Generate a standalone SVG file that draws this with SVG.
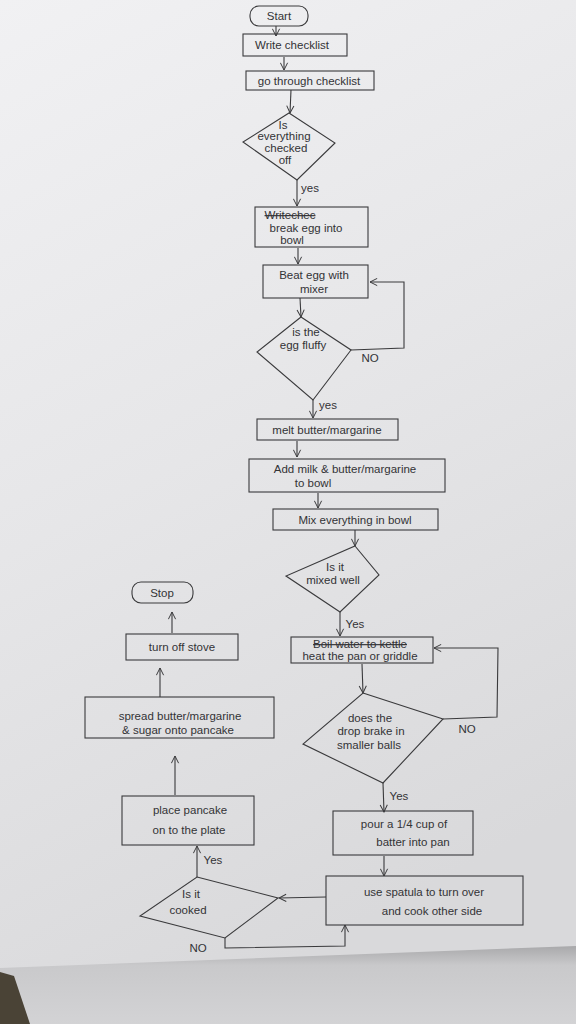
<svg xmlns="http://www.w3.org/2000/svg" width="576" height="1024" viewBox="0 0 576 1024">
<defs>
<linearGradient id="paper" x1="0" y1="0" x2="0.3" y2="1">
<stop offset="0" stop-color="#f1f1f3"/>
<stop offset="0.5" stop-color="#e6e6e8"/>
<stop offset="1" stop-color="#d9d9db"/>
</linearGradient>
<linearGradient id="under" x1="0" y1="0" x2="0" y2="1">
<stop offset="0" stop-color="#a9a9ab"/>
<stop offset="0.25" stop-color="#c9c9cb"/>
<stop offset="1" stop-color="#d3d3d5"/>
</linearGradient>
<marker id="ah" viewBox="0 0 10 10" refX="9" refY="5" markerWidth="9" markerHeight="9" orient="auto-start-reverse" markerUnits="userSpaceOnUse">
<path d="M1,1 L9,5 L1,9" fill="none" stroke="#3a3a3c" stroke-width="1.1"/>
</marker>
<style>
.sh{fill:none;stroke:#3a3a3c;stroke-width:1.1}
.ar{fill:none;stroke:#3a3a3c;stroke-width:1.1;marker-end:url(#ah)}
text{font-family:"Liberation Sans","DejaVu Sans",sans-serif;font-size:11.5px;fill:#333336;text-anchor:middle}
.lab{font-size:11.5px}
.st{text-decoration:line-through}
</style>
</defs>
<rect width="576" height="1024" fill="url(#paper)"/>
<polygon points="0,968 576,946 576,1024 0,1024" fill="url(#under)"/>
<polygon points="0,972 14,976 30,1024 0,1024" fill="#4a4336"/>

<g id="connectors">
<line class="ar" x1="276" y1="26" x2="276" y2="36"/>
<line class="ar" x1="284" y1="57" x2="284" y2="70"/>
<line class="ar" x1="291" y1="90" x2="290" y2="113"/>
<line class="ar" x1="297" y1="180" x2="297" y2="206"/>
<text class="lab" x="310" y="192">yes</text>
<line class="ar" x1="298" y1="248" x2="298" y2="264"/>
<line class="ar" x1="300" y1="298" x2="301" y2="317"/>
<polyline class="ar" points="351,350 404,348 404,282 370,282"/>
<text class="lab" x="370" y="362">NO</text>
<line class="ar" x1="313" y1="400" x2="313" y2="418"/>
<text class="lab" x="328" y="409">yes</text>
<line class="ar" x1="297" y1="441" x2="297" y2="457"/>
<line class="ar" x1="318" y1="493" x2="318" y2="508"/>
<line class="ar" x1="355" y1="530" x2="355" y2="546"/>
<line class="ar" x1="340" y1="612" x2="340" y2="636"/>
<text class="lab" x="355" y="628">Yes</text>
<polyline class="ar" points="443,719 497,717 498,648 434,648"/>
<text class="lab" x="467" y="733">NO</text>
<line class="ar" x1="362" y1="664" x2="363" y2="693"/>
<line class="ar" x1="383" y1="783" x2="384" y2="812"/>
<text class="lab" x="399" y="800">Yes</text>
<line class="ar" x1="384" y1="856" x2="384" y2="876"/>
<line class="ar" x1="326" y1="897" x2="279" y2="898"/>
<polyline class="ar" points="225,938 225,948 345,946 345,925"/>
<text class="lab" x="198" y="952">NO</text>
<line class="ar" x1="197" y1="877" x2="197" y2="846"/>
<text class="lab" x="213" y="864">Yes</text>
<line class="ar" x1="175" y1="795" x2="175" y2="756"/>
<line class="ar" x1="160" y1="697" x2="160" y2="668"/>
<line class="ar" x1="172" y1="633" x2="172" y2="612"/>
</g>

<g id="start"><rect class="sh" x="250" y="6" width="58" height="20" rx="9"/><text x="279" y="20">Start</text></g>
<g id="write-checklist"><rect class="sh" x="243" y="34" width="104" height="22"/><text x="292" y="49">Write checklist</text></g>
<g id="go-through"><rect class="sh" x="246" y="71" width="128" height="19"/><text x="309" y="85">go through checklist</text></g>
<g id="checked-off"><polygon class="sh" points="289,113 335,143 297,180 243,142"/>
<text x="283" y="129">Is</text><text x="284" y="140">everything</text><text x="286" y="152">checked</text><text x="285" y="164">off</text></g>
<g id="break-egg"><rect class="sh" x="255" y="207" width="113" height="40"/>
<text class="st" x="290" y="219">Writechec</text><text x="306" y="232">break egg into</text><text x="292" y="244">bowl</text></g>
<g id="beat-egg"><rect class="sh" x="263" y="265" width="105" height="33"/>
<text x="314" y="279">Beat egg with</text><text x="314" y="293">mixer</text></g>
<g id="egg-fluffy"><polygon class="sh" points="301,317 351,350 313,400 257,352"/>
<text x="306" y="336">is the</text><text x="303" y="349">egg fluffy</text></g>
<g id="melt-butter"><rect class="sh" x="257" y="419" width="141" height="21"/><text x="327" y="434">melt butter/margarine</text></g>
<g id="add-milk"><rect class="sh" x="249" y="459" width="196" height="33"/>
<text x="345" y="473">Add milk &amp; butter/margarine</text><text x="313" y="487">to bowl</text></g>
<g id="mix-everything"><rect class="sh" x="273" y="509" width="165" height="21"/><text x="355" y="524">Mix everything in bowl</text></g>
<g id="mixed-well"><polygon class="sh" points="355,546 379,575 340,612 286,576"/>
<text x="335" y="571">Is it</text><text x="333" y="584">mixed well</text></g>
<g id="heat-pan"><rect class="sh" x="291" y="637" width="142" height="26"/>
<text class="st" x="360" y="648">Boil water to kettle</text><text x="360" y="660">heat the pan or griddle</text></g>
<g id="drop-brake"><polygon class="sh" points="363,693 443,719 383,783 303,744"/>
<text x="370" y="722">does the</text><text x="371" y="735">drop brake in</text><text x="369" y="749">smaller balls</text></g>
<g id="pour-batter"><rect class="sh" x="333" y="811" width="140" height="44"/>
<text x="404" y="828">pour a 1/4 cup of</text><text x="413" y="846">batter into pan</text></g>
<g id="use-spatula"><rect class="sh" x="326" y="876" width="197" height="49"/>
<text x="424" y="896">use spatula to turn over</text><text x="432" y="915">and cook other side</text></g>
<g id="is-cooked"><polygon class="sh" points="197,877 278,898 225,938 140,916"/>
<text x="191" y="898">Is it</text><text x="188" y="914">cooked</text></g>
<g id="place-pancake"><rect class="sh" x="122" y="796" width="132" height="49"/>
<text x="190" y="814">place pancake</text><text x="189" y="834">on to the plate</text></g>
<g id="spread-butter"><rect class="sh" x="85" y="697" width="189" height="41"/>
<text x="180" y="720">spread butter/margarine</text><text x="178" y="734">&amp; sugar onto pancake</text></g>
<g id="turn-off-stove"><rect class="sh" x="126" y="634" width="112" height="26"/><text x="182" y="651">turn off stove</text></g>
<g id="stop"><rect class="sh" x="132" y="582" width="61" height="21" rx="9"/><text x="162" y="597">Stop</text></g>
</svg>
